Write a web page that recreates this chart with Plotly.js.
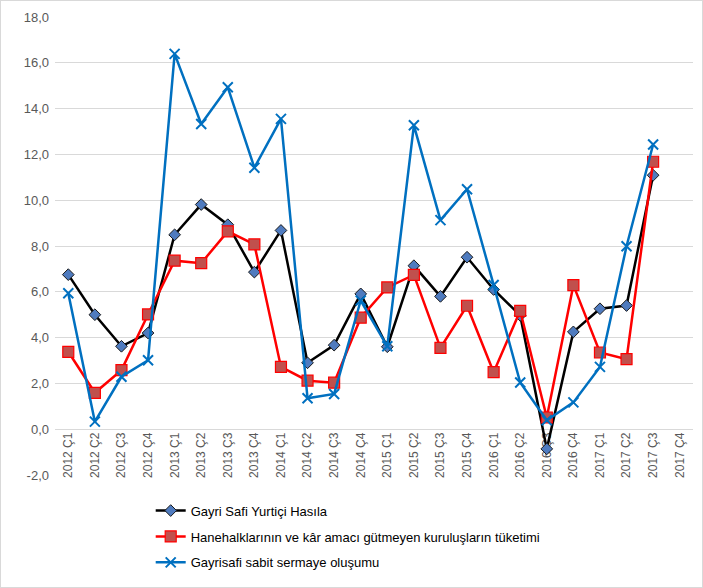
<!DOCTYPE html>
<html>
<head>
<meta charset="utf-8">
<script src="https://cdn.plot.ly/plotly-3.0.1.min.js"></script>
<style>
html,body{margin:0;padding:0;background:#fff;}
#wrap{width:701px;height:586px;border:1px solid #d9d9d9;}
#chart{width:701px;height:586px;}
</style>
</head>
<body>
<div id="wrap"><div id="chart"></div></div>
<script>
const categories = ["2012 Ç1","2012 Ç2","2012 Ç3","2012 Ç4","2013 Ç1","2013 Ç2","2013 Ç3","2013 Ç4",
  "2014 Ç1","2014 Ç2","2014 Ç3","2014 Ç4","2015 Ç1","2015 Ç2","2015 Ç3","2015 Ç4",
  "2016 Ç1","2016 Ç2","2016 Ç3","2016 Ç4","2017 Ç1","2017 Ç2","2017 Ç3","2017 Ç4"];
const gdp = [6.75,5.0,3.62,4.2,8.49,9.81,8.93,6.86,8.68,2.9,3.67,5.91,3.6,7.14,5.8,7.51,6.1,4.97,-0.86,4.25,5.26,5.4,11.09,null];
const consumption = [3.38,1.59,2.58,5.01,7.36,7.25,8.64,8.07,2.72,2.12,2.03,4.87,6.19,6.74,3.55,5.39,2.49,5.17,0.51,6.29,3.35,3.06,11.68,null];
const investment = [5.94,0.33,2.29,3.01,16.39,13.33,14.93,11.42,13.55,1.35,1.54,5.62,3.62,13.27,9.13,10.48,6.3,2.04,0.39,1.17,2.72,7.99,12.43,null];
const seriesNames = ["Gayri Safi Yurtiçi Hasıla","Hanehalklarının ve kâr amacı gütmeyen kuruluşların tüketimi","Gayrisafi sabit sermaye oluşumu"];
const yTicks = [-2,0,2,4,6,8,10,12,14,16,18];
const yTickText = yTicks.map(v => v.toFixed(1).replace('.', ','));

const FONT = "'Liberation Sans', Arial, sans-serif";
const traces = [
  {x: categories, y: gdp, name: seriesNames[0], type: 'scatter', mode: 'lines+markers', legendgroup: 'a',
   line: {color: '#000000', width: 2.5},
   marker: {symbol: 'diamond', size: 9, color: '#4f7bbf', line: {color: '#1a1a1a', width: 1}}},
  {x: categories, y: consumption, name: seriesNames[1], type: 'scatter', mode: 'lines+markers', legendgroup: 'b',
   line: {color: '#ff0000', width: 2.5},
   marker: {symbol: 'square', size: 11, color: '#c0504d', line: {color: '#ff0000', width: 1.2}}},
  {x: categories, y: investment, name: seriesNames[2], type: 'scatter', mode: 'lines+markers', legendgroup: 'c',
   line: {color: '#0070c0', width: 2.5},
   marker: {symbol: 'x-thin', size: 10, color: '#0070c0', line: {color: '#0070c0', width: 2}}}
];

const layout = {
  width: 701, height: 586,
  margin: {l: 54, r: 9, t: 16, b: 110},
  paper_bgcolor: '#ffffff', plot_bgcolor: '#ffffff',
  separators: ',.',
  font: {family: FONT, size: 13, color: '#595959'},
  showlegend: true,
  legend: {x: 0.15, y: -0.045, xanchor: 'left', yanchor: 'top', orientation: 'v',
    traceorder: 'grouped', tracegroupgap: 6, itemwidth: 30,
    font: {family: FONT, size: 13, color: '#000000'}, bgcolor: 'rgba(0,0,0,0)'},
  xaxis: {type: 'category', range: [-0.5, 23.5], anchor: 'free', position: 0.1,
    tickangle: -90, showgrid: false, showline: false, ticks: '', zeroline: false,
    layer: 'below traces', tickfont: {family: FONT, size: 12, color: '#595959'}},
  yaxis: {range: [-2, 18], tickvals: yTicks, ticktext: yTickText, showgrid: true, gridcolor: '#d9d9d9', gridwidth: 1,
    zeroline: false, showline: false, ticks: '', ticklabelstandoff: 5,
    tickfont: {family: FONT, size: 13, color: '#595959'}}
};

Plotly.newPlot('chart', traces, layout, {displayModeBar: false, staticPlot: true});
</script>
</body>
</html>
